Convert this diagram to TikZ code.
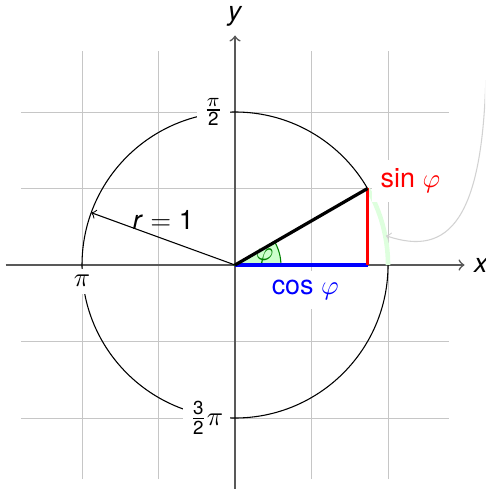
\documentclass[tikz,border=0pt]{standalone}
\usepackage{amsmath}
\usepackage{fontspec}
\setmainfont{TeX Gyre Heros}
\usetikzlibrary{positioning, calc}

\begin{document}
\begin{tikzpicture}[
        x=2cm, y=2cm,
        >=to,
        % Styles of the picture
        gridline/.style={gray!45, very thin},
        axis/.style={->, black!65, semithick},
        ticklabel/.style={fill=white, inner sep=2.5pt},
        circleline/.style={black, thin},
        anglefill/.style={fill=green!20, draw=green!50!black},
        arcmark/.style={green!13, line width=1.7pt},
        radiusarrow/.style={->, black, thin},
        sinline/.style={red, very thick},
        cosline/.style={blue, very thick},
        hypline/.style={black, very thick},
        pointer/.style={<-, gray!35, thin}
    ]

    % --- 1. FRAME AND GRID ---
    \clip (-1.536,-1.464) rectangle (1.634,1.732);
    \draw[gridline, step=0.5] (-1.4,-1.4) grid (1.4,1.4);

    \coordinate (O) at (0,0);
    \coordinate (xmin) at (-1.5,0);
    \coordinate (xmax) at (1.5,0);
    \coordinate (ymin) at (0,-1.5);
    \coordinate (ymax) at (0,1.5);
    \coordinate (P) at (30:1);
    \coordinate (Q) at (P |- O);
    \coordinate (R) at (160:1);
    \coordinate (E) at (1,0);
    \coordinate (mark) at (11:1.005);
    \coordinate (far) at (1.64,1.25);

    % --- 2. AXES AND CIRCLE ---
    \draw[axis] (xmin) -- (xmax);
    \draw[axis] (ymin) -- (ymax);
    \node[right=0pt of xmax] (xlab) {\textit{x}};
    \node[above=0pt of ymax] (ylab) {\textit{y}};

    \draw[circleline] (O) circle[radius=1];

    \node[ticklabel, anchor=east] (halfpi) at (-0.03,1) {$\frac{\pi}{\text{2}}$};
    \node[ticklabel, anchor=north] (pi) at (-1,-0.02) {$\pi$};
    \node[ticklabel, anchor=east] (threehalfpi) at (-0.03,-1) {$\frac{\text{3}}{\text{2}}\pi$};

    % --- 3. ANGLE ---
    \filldraw[anglefill] (O) -- (0.3,0) arc[start angle=0, end angle=30, radius=0.3] -- cycle;
    \node[text=green!50!black] (phi) at (15:0.2) {$\varphi$};
    \draw[arcmark] (E) arc[start angle=0, end angle=30, radius=1];

    % --- 4. RADIUS, SINE, COSINE ---
    \draw[radiusarrow] (O) -- node[above] {\textit{r} $=$ 1} (R);
    \draw[cosline] (O) -- (Q);
    \draw[sinline] (Q) -- (P);
    \draw[hypline] (O) -- (P);

    \node[fill=white, anchor=west, text=red] (sinlab) at (0.89,0.55) {sin $\varphi$};
    \node[fill=white, text=blue, below=2pt] (coslab) at ($(O)!0.53!(Q)$) {cos $\varphi$};

    \draw[pointer] (mark) .. controls (1.4,0.05) and (1.62,0.3) .. (far);

\end{tikzpicture}
\end{document}
